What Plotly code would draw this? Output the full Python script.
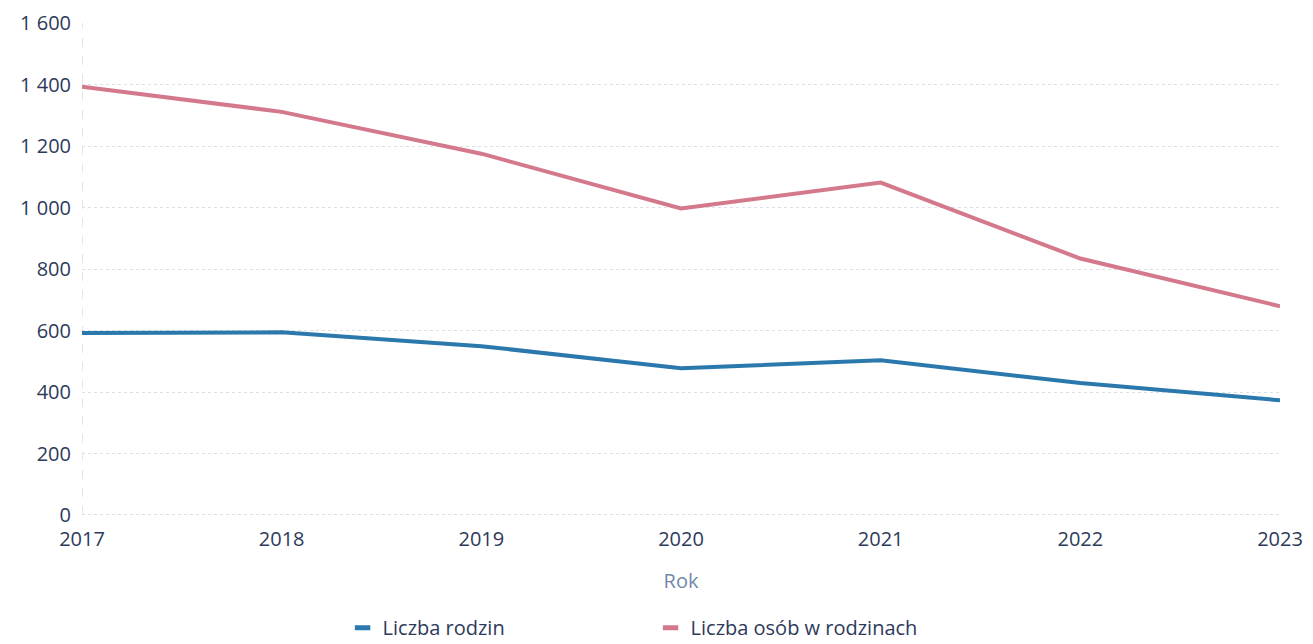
import plotly.graph_objects as go

years = [2017, 2018, 2019, 2020, 2021, 2022, 2023]
liczba_rodzin = [592, 594, 549, 477, 503, 429, 373]
liczba_osob = [1393, 1311, 1175, 997, 1081, 834, 679]
y_ticks = [0, 200, 400, 600, 800, 1000, 1200, 1400, 1600]
series_names = ["Liczba rodzin", "Liczba osób w rodzinach"]
series_colors = ["#2b78ad", "#d4788c"]

fig = go.Figure()
for vals, name, col in zip([liczba_rodzin, liczba_osob], series_names, series_colors):
    fig.add_trace(go.Scatter(x=years, y=vals, mode="lines", name=name,
                             line=dict(color=col, width=4), showlegend=False))
    # legend entry with a short thick dash symbol
    fig.add_trace(go.Scatter(x=[None], y=[None], mode="markers", name=name,
                             marker=dict(symbol="line-ew", size=11, color=col,
                                         line=dict(color=col, width=5)),
                             showlegend=True))

font_family = "Open Sans, Noto Sans, sans-serif"
fig.update_layout(
    width=1313, height=644,
    margin=dict(l=82, r=33, t=23, b=129, autoexpand=False),
    paper_bgcolor="white", plot_bgcolor="white",
    separators=", ",
    font=dict(family=font_family, color="#2d3a5a", size=20),
    showlegend=True,
    legend=dict(orientation="h", x=0.2175, xanchor="left",
                y=-0.229, yanchor="middle",
                entrywidth=263, entrywidthmode="pixels",
                font=dict(size=20, color="#2d3a5a", family=font_family),
                itemwidth=30),
    xaxis=dict(
        range=[2017, 2023], tickvals=years, ticks="", showgrid=False,
        zeroline=False, showline=False, automargin=False,
        title=dict(text="Rok", font=dict(size=20, color="#7088aa"), standoff=22),
        tickfont=dict(size=20, color="#2d3a5a"), ticklabelstandoff=10,
    ),
    yaxis=dict(
        range=[0, 1600], tickvals=y_ticks, separatethousands=True, ticks="",
        showgrid=True, gridcolor="#dcdfe6", griddash="dot", gridwidth=1,
        zeroline=False, showline=False, automargin=False,
        tickfont=dict(size=20, color="#2d3a5a"), ticklabelstandoff=10,
    ),
)
fig.add_shape(type="line", xref="x", yref="y", x0=2017, x1=2017, y0=0, y1=1600,
              line=dict(color="#c8ccd4", width=1, dash="dash"), layer="below")
fig.add_shape(type="line", xref="x", yref="y", x0=2017, x1=2023, y0=0, y1=0,
              line=dict(color="#b8bcc6", width=1, dash="dot"), layer="below")

fig.write_html("out.html", config={"displayModeBar": False},
               post_script="document.body.style.margin='0';document.body.style.overflow='hidden';")
